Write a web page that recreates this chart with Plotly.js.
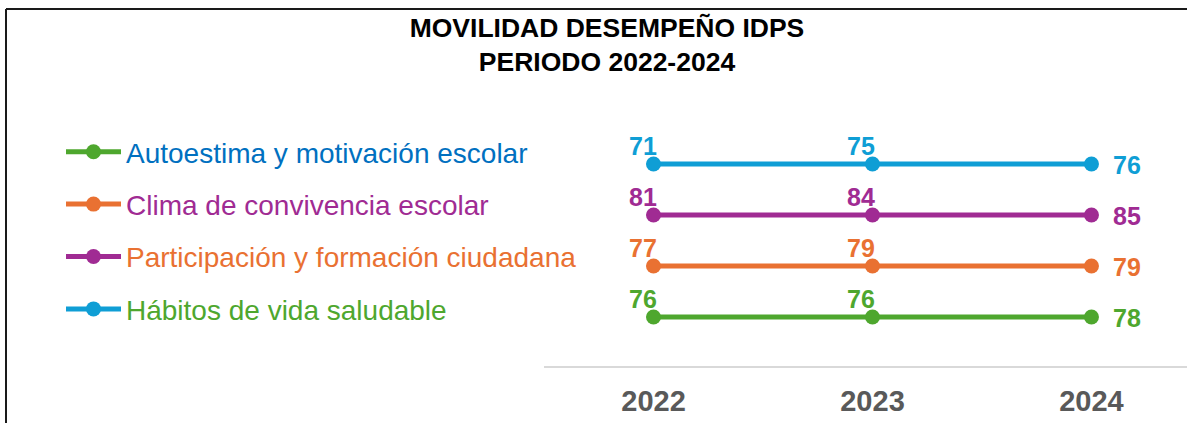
<!DOCTYPE html>
<html><head><meta charset="utf-8">
<script src="https://cdn.plot.ly/plotly-3.0.1.min.js"></script>
<style>html,body{margin:0;padding:0;background:#fff}#chart{width:1187px;height:423px}</style>
</head><body><div id="chart"></div>
<script>
// ---- data ----
const years = ['2022', '2023', '2024'];
const seriesNames = ['Autoestima y motivación escolar', 'Clima de convivencia escolar', 'Participación y formación ciudadana', 'Hábitos de vida saludable'];
const autoestima = [76, 76, 78];
const clima = [77, 79, 79];
const participacion = [81, 84, 85];
const habitos = [71, 75, 76];
const seriesValues = [autoestima, clima, participacion, habitos];
const seriesRows = [1, 2, 3, 4]; // display row of each series (bottom to top)
const lineColors = ['#4EA72E', '#E97132', '#A02B93', '#0F9ED5'];
const legendTextColors = ['#0070C0', '#A02B93', '#E97132', '#4EA72E'];

// ---- layout constants ----
const W = 1187, H = 423;
const M = {l: 544, r: 0, t: 120, b: 57};
const PW = W - M.l - M.r, PH = H - M.t - M.b;
const px2x = p => (p - M.l) / PW;
const px2y = p => (H - M.b - p) / PH;
const FONT = 'Arial, "Liberation Sans", sans-serif';

const traces = seriesValues.map((vals, s) => ({
  type: 'scatter', mode: 'lines+markers',
  x: years, y: years.map(() => seriesRows[s]),
  name: '<span style="color:' + legendTextColors[s] + '">' + seriesNames[s] + '</span>',
  legendgroup: 'g' + s,
  line: {color: lineColors[s], width: 5},
  marker: {color: lineColors[s], size: 15},
  hoverinfo: 'skip', cliponaxis: false
}));

const annotations = [];
seriesValues.forEach((vals, s) => {
  vals.forEach((v, i) => {
    const last = i === vals.length - 1;
    annotations.push({
      x: i, y: seriesRows[s], xref: 'x', yref: 'y',
      text: '<b>' + v + '</b>', showarrow: false,
      xshift: last ? 36 : -11, yshift: last ? -1 : 18,
      font: {family: FONT, size: 25, color: lineColors[s]}
    });
  });
});

const shapes = [
  {type: 'line', xref: 'paper', yref: 'paper', x0: px2x(6), x1: px2x(W + 5), y0: px2y(9), y1: px2y(9), line: {color: '#1a1a1a', width: 2}},
  {type: 'line', xref: 'paper', yref: 'paper', x0: px2x(6), x1: px2x(6), y0: px2y(9), y1: px2y(H + 5), line: {color: '#1a1a1a', width: 2}}
];

const layout = {
  width: W, height: H, margin: M,
  paper_bgcolor: '#fff', plot_bgcolor: '#fff',
  font: {family: FONT},
  title: {
    text: '<b>MOVILIDAD DESEMPEÑO IDPS<br>PERIODO 2022-2024</b>',
    font: {family: FONT, size: 26.5, color: '#000'},
    xref: 'container', x: 607 / W, xanchor: 'center',
    yref: 'container', y: 1 - 37 / H, yanchor: 'top'
  },
  xaxis: {
    type: 'category', range: [-0.5, 2.5 - (1201 - W) / 219.3],
    showline: true, linecolor: '#d9d9d9', linewidth: 2,
    showgrid: false, zeroline: false, ticks: '',
    tickfont: {family: FONT, size: 29, color: '#595959', weight: 'bold'},
    ticklabelstandoff: 8,
    fixedrange: true
  },
  yaxis: {
    range: [1 - (366 - 317) / 51, 4 + (164 - 120) / 51],
    showline: false, showgrid: false, zeroline: false, showticklabels: false, ticks: '',
    fixedrange: true
  },
  showlegend: true,
  legend: {
    x: px2x(61), y: px2y(127), xanchor: 'left', yanchor: 'top',
    font: {family: FONT, size: 28}, traceorder: 'grouped',
    tracegroupgap: 13, itemwidth: 55, bgcolor: 'rgba(0,0,0,0)'
  },
  shapes: shapes,
  annotations: annotations
};

Plotly.newPlot('chart', traces, layout, {staticPlot: true, displayModeBar: false});
</script>
</body></html>
